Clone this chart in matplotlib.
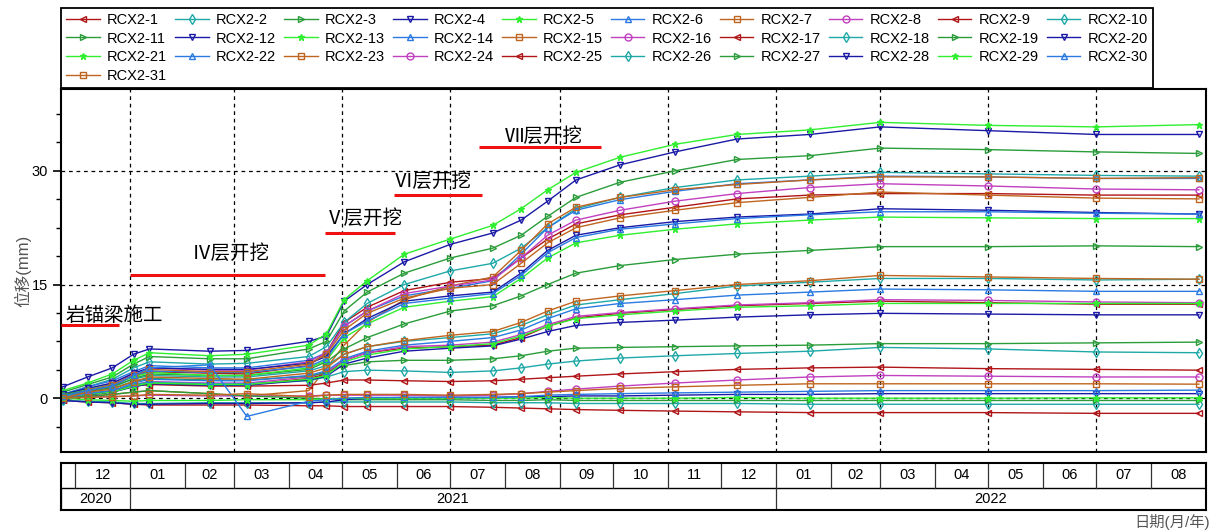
import matplotlib
matplotlib.use('Agg')
import matplotlib.pyplot as plt
import matplotlib.dates as mdates
from matplotlib.ticker import MultipleLocator
import pandas as pd

plt.rcParams['font.family'] = ['Liberation Sans', 'Noto Sans CJK SC']

# measurement dates (one marker per date)
dates = pd.to_datetime([
    '2020-11-24', '2020-12-08', '2020-12-22', '2021-01-03', '2021-01-12',
    '2021-02-15', '2021-03-08', '2021-04-12', '2021-04-22', '2021-05-02',
    '2021-05-15', '2021-06-05', '2021-07-01', '2021-07-25', '2021-08-10',
    '2021-08-25', '2021-09-10', '2021-10-05', '2021-11-05', '2021-12-10',
    '2022-01-20', '2022-03-01', '2022-05-01', '2022-07-01', '2022-08-28'])

# displacement (mm) per point
rcx2_1 = [0.0, 0.8, 1.5, 3.0, 3.5, 3.3, 3.2, 4.3, 6.0, 10.0, 12.0, 14.2, 15.3, 15.8, 18.5, 21.0, 23.0, 24.2, 25.2, 26.3, 26.8, 27.0, 27.0, 26.8, 26.8]
rcx2_2 = [0.5, 1.5, 2.5, 4.0, 4.8, 4.5, 4.6, 5.5, 6.8, 10.0, 12.5, 15.0, 16.8, 17.8, 19.8, 22.5, 25.0, 26.5, 27.8, 28.8, 29.3, 29.8, 29.6, 29.4, 29.3]
rcx2_3 = [0.8, 1.8, 2.8, 4.5, 5.5, 5.2, 5.2, 6.5, 7.5, 11.5, 14.0, 16.5, 18.5, 19.8, 21.5, 24.0, 26.5, 28.5, 30.0, 31.5, 32.0, 33.0, 32.8, 32.5, 32.3]
rcx2_4 = [1.5, 2.8, 4.0, 5.8, 6.5, 6.2, 6.3, 7.5, 8.2, 12.8, 15.0, 18.0, 20.3, 21.8, 23.5, 26.0, 28.8, 30.8, 32.5, 34.2, 34.8, 35.8, 35.3, 34.8, 34.8]
rcx2_5 = [1.0, 2.0, 3.2, 5.0, 6.0, 5.6, 5.8, 7.0, 8.5, 13.0, 15.5, 19.0, 21.0, 22.8, 25.0, 27.5, 29.8, 31.8, 33.5, 34.8, 35.4, 36.4, 36.0, 35.8, 36.1]
rcx2_6 = [0.5, 1.5, 2.3, 3.5, 4.3, 4.0, 4.0, 5.0, 6.0, 9.5, 11.5, 13.5, 14.5, 15.5, 19.0, 22.5, 24.8, 26.2, 27.3, 28.3, 28.8, 29.3, 29.2, 29.0, 29.0]
rcx2_7 = [0.0, 0.3, 0.5, 0.8, 1.0, 0.6, 0.3, 1.0, 4.0, 7.0, 10.0, 13.0, 14.8, 16.0, 19.5, 23.0, 25.2, 26.5, 27.5, 28.2, 28.8, 29.2, 29.2, 29.0, 29.1]
rcx2_8 = [0.3, 1.2, 2.0, 3.2, 4.0, 3.7, 3.7, 4.8, 6.0, 9.5, 11.5, 13.8, 14.8, 15.6, 18.5, 21.5, 23.5, 24.8, 26.0, 27.0, 27.8, 28.3, 28.0, 27.6, 27.5]
rcx2_9 = [-0.2, 0.5, 0.9, 1.7, 2.0, 1.8, 1.8, 2.6, 3.2, 5.0, 6.0, 6.6, 6.8, 7.0, 8.0, 9.5, 10.6, 11.2, 11.7, 12.2, 12.5, 12.8, 12.6, 12.4, 12.4]
rcx2_10 = [0.2, 1.0, 1.5, 2.5, 3.0, 2.8, 2.8, 3.6, 4.3, 5.8, 6.8, 7.5, 8.0, 8.5, 9.6, 11.0, 12.3, 13.0, 13.8, 14.8, 15.3, 15.8, 15.8, 15.6, 15.7]
rcx2_11 = [0.3, 1.0, 1.5, 2.6, 3.2, 3.0, 3.0, 3.8, 4.8, 6.5, 8.0, 9.8, 11.5, 12.2, 13.5, 15.0, 16.5, 17.5, 18.3, 19.0, 19.5, 20.0, 20.0, 20.1, 20.0]
rcx2_12 = [0.5, 1.3, 2.0, 3.3, 4.0, 3.8, 3.8, 4.6, 5.5, 8.5, 10.5, 12.8, 13.5, 14.0, 16.5, 19.5, 21.5, 22.5, 23.3, 23.9, 24.3, 25.0, 24.8, 24.5, 24.3]
rcx2_13 = [0.3, 1.1, 1.8, 2.8, 3.4, 3.0, 3.0, 4.0, 5.0, 8.0, 9.8, 12.0, 12.8, 13.4, 15.8, 18.5, 20.5, 21.5, 22.3, 23.0, 23.5, 23.9, 23.8, 23.7, 23.7]
rcx2_14 = [0.2, 1.0, 1.8, 3.0, 3.6, 3.4, 3.4, 4.2, 5.2, 8.5, 10.2, 12.5, 13.2, 13.8, 16.2, 19.2, 21.2, 22.3, 23.0, 23.7, 24.2, 24.6, 24.6, 24.4, 24.3]
rcx2_15 = [0.2, 1.0, 1.8, 3.0, 3.8, 3.5, 3.5, 4.5, 5.8, 9.0, 11.2, 13.2, 14.5, 15.0, 17.8, 20.5, 22.5, 23.8, 24.8, 25.8, 26.5, 27.2, 26.8, 26.4, 26.3]
rcx2_16 = [0.0, 0.5, 0.9, 1.8, 2.2, 2.0, 2.0, 2.8, 3.4, 5.0, 6.0, 6.8, 7.0, 7.4, 8.4, 9.7, 10.8, 11.3, 11.8, 12.3, 12.6, 13.0, 12.9, 12.7, 12.6]
rcx2_17 = [-0.2, 0.5, 0.8, 1.6, 1.8, 1.6, 1.6, 1.7, 2.0, 2.4, 2.4, 2.3, 2.2, 2.3, 2.5, 2.7, 2.9, 3.2, 3.5, 3.8, 4.0, 4.1, 3.9, 3.8, 3.7]
rcx2_18 = [0.2, 0.7, 1.0, 1.8, 2.1, 1.9, 1.9, 2.3, 2.8, 3.5, 3.7, 3.6, 3.4, 3.6, 4.0, 4.5, 4.9, 5.3, 5.6, 5.9, 6.2, 6.7, 6.5, 6.1, 6.0]
rcx2_19 = [0.5, 1.0, 1.3, 2.2, 2.6, 2.4, 2.4, 2.9, 3.4, 4.3, 4.8, 5.0, 5.0, 5.2, 5.6, 6.2, 6.6, 6.7, 6.8, 6.9, 7.0, 7.2, 7.2, 7.3, 7.4]
rcx2_20 = [-0.3, 0.4, 0.8, 1.5, 1.9, 1.7, 1.7, 2.4, 2.9, 4.5, 5.3, 6.2, 6.6, 6.9, 7.8, 8.8, 9.6, 10.0, 10.3, 10.7, 11.0, 11.2, 11.1, 11.0, 11.0]
rcx2_21 = [0.0, 0.5, 0.8, 1.6, 2.0, 1.8, 1.8, 2.5, 3.0, 4.8, 5.7, 6.5, 6.8, 7.2, 8.2, 9.5, 10.5, 11.0, 11.5, 12.0, 12.2, 12.5, 12.5, 12.5, 12.5]
rcx2_22 = [0.0, 0.6, 1.0, 2.0, 2.5, 2.3, 2.3, 3.0, 3.6, 5.2, 6.2, 7.0, 7.5, 8.0, 9.0, 10.5, 11.8, 12.5, 13.0, 13.6, 14.0, 14.4, 14.3, 14.1, 14.1]
rcx2_23 = [0.0, 0.8, 1.2, 2.2, 2.8, 2.6, 2.5, 3.3, 4.0, 5.8, 6.8, 7.6, 8.3, 8.8, 10.0, 11.5, 12.8, 13.5, 14.2, 15.0, 15.5, 16.2, 16.0, 15.8, 15.7]
rcx2_24 = [0.0, 0.2, 0.2, 0.3, 0.4, 0.3, 0.3, 0.3, 0.4, 0.4, 0.4, 0.4, 0.3, 0.4, 0.6, 0.9, 1.2, 1.6, 2.0, 2.4, 2.8, 3.0, 2.9, 2.8, 2.8]
rcx2_25 = [-0.3, -0.5, -0.6, -0.8, -0.9, -0.9, -0.9, -1.0, -1.0, -1.1, -1.1, -1.1, -1.1, -1.2, -1.3, -1.4, -1.5, -1.6, -1.7, -1.8, -1.9, -1.9, -1.9, -2.0, -2.0]
rcx2_26 = [-0.3, -0.4, -0.5, -0.7, -0.7, -0.6, -0.6, -0.6, -0.5, -0.5, -0.5, -0.5, -0.5, -0.6, -0.6, -0.6, -0.7, -0.7, -0.7, -0.7, -0.8, -0.8, -0.8, -0.8, -0.8]
rcx2_27 = [0.0, 0.2, 0.5, 0.8, 1.0, 0.6, 0.3, 0.0, -0.1, -0.2, -0.2, -0.2, -0.2, -0.3, -0.3, -0.2, -0.3, -0.3, -0.3, -0.3, -0.3, -0.3, -0.3, -0.3, -0.3]
rcx2_28 = [-0.3, -0.5, -0.6, -0.8, -0.8, -0.7, -0.7, -0.6, -0.5, -0.2, 0.0, 0.1, 0.1, 0.1, 0.2, 0.2, 0.3, 0.3, 0.4, 0.5, 0.5, 0.6, 0.6, 0.6, 0.6]
rcx2_29 = [0.0, -0.2, -0.3, -0.4, -0.3, -0.3, -0.2, -0.2, -0.1, 0.0, 0.0, 0.0, 0.0, 0.0, 0.0, 0.1, 0.0, 0.0, 0.0, 0.1, 0.0, 0.0, 0.0, 0.05, 0.05]
rcx2_30 = [0.3, 1.0, 1.6, 3.0, 4.0, 4.4, -2.4, -0.4, -0.2, 0.0, 0.1, 0.1, 0.1, 0.1, 0.2, 0.4, 0.5, 0.6, 0.7, 0.8, 0.9, 1.0, 1.0, 1.0, 1.06]
rcx2_31 = [0.0, 0.1, 0.2, 0.3, 0.5, 0.4, 0.6, 0.2, 0.4, 0.5, 0.5, 0.5, 0.4, 0.5, 0.6, 0.8, 1.0, 1.3, 1.5, 1.7, 1.9, 1.9, 1.9, 1.9, 1.85]

series = [rcx2_1, rcx2_2, rcx2_3, rcx2_4, rcx2_5, rcx2_6, rcx2_7, rcx2_8, rcx2_9, rcx2_10,
          rcx2_11, rcx2_12, rcx2_13, rcx2_14, rcx2_15, rcx2_16, rcx2_17, rcx2_18, rcx2_19, rcx2_20,
          rcx2_21, rcx2_22, rcx2_23, rcx2_24, rcx2_25, rcx2_26, rcx2_27, rcx2_28, rcx2_29, rcx2_30,
          rcx2_31]
names = ['RCX2-%d' % (i + 1) for i in range(len(series))]

# construction stages
stage_labels = ['岩锚梁施工', 'Ⅳ层开挖', 'Ⅴ层开挖', 'Ⅵ层开挖', 'Ⅶ层开挖']
stage_start = pd.to_datetime(['2020-11-23', '2021-01-01', '2021-04-21', '2021-05-30', '2021-07-17'])
stage_end = pd.to_datetime(['2020-12-26', '2021-04-21', '2021-05-31', '2021-07-19', '2021-09-24'])
stage_y = [9.65, 16.25, 21.8, 26.8, 33.2]
stage_text_x = pd.to_datetime(['2020-12-23', '2021-02-27', '2021-05-13', '2021-06-21', '2021-08-23'])
stage_text_y = [9.5, 17.7, 22.3, 27.2, 33.2]

colors = ['#b01518', '#1fa8a8', '#2a9d3a', '#1a1aa6', '#30ee30', '#2a7ae2', '#c0651f', '#c040c0']
marks = ['<', 'd', '>', 'v', '*', '^', 's', 'o']

x0 = pd.Timestamp('2020-11-23')
x1 = pd.Timestamp('2022-09-01')

fig = plt.figure(figsize=(12.22, 5.32), dpi=100)
ax = fig.add_axes([61 / 1222, 1 - 452 / 532, 1145 / 1222, 363 / 532])

handles = []
for i, vals in enumerate(series):
    c = colors[i % 8]
    m = marks[i % 8]
    mfc = c if m == '*' else 'none'
    ln, = ax.plot(dates, vals, color=c, lw=1.0, marker=m, ms=5, mfc=mfc, mec=c, mew=1.0, label=names[i])
    handles.append(ln)

for lab, s, e, y, tx, ty in zip(stage_labels, stage_start, stage_end, stage_y, stage_text_x, stage_text_y):
    ax.plot([s, e], [y, y], color='#ee1111', lw=2.2, solid_capstyle='butt', zorder=5)
    ax.text(tx, ty, lab, ha='center', va='bottom', fontsize=14, family=['Noto Sans CJK SC'], zorder=6)

ax.set_xlim(x0, x1)
ax.set_ylim(-7.1, 40.8)
ax.xaxis.set_major_locator(mdates.MonthLocator(bymonth=[1, 3, 5, 7, 9, 11]))
ax.set_yticks([0, 15, 30])
ax.yaxis.set_minor_locator(MultipleLocator(3.75))
ax.tick_params(axis='x', length=0, labelbottom=False)
ax.tick_params(axis='y', which='major', direction='out', length=6, width=1.2, labelsize=10.5)
ax.tick_params(axis='y', which='minor', direction='out', length=3.5, width=1.0)
ax.grid(True, which='major', color='black', linestyle=(0, (3, 3)), linewidth=0.9)
for sp in ax.spines.values():
    sp.set_linewidth(1.5)
ax.set_ylabel('位移(mm)', fontsize=12, color='#555555')
ax.yaxis.set_label_coords(-0.026, 0.5)

# legend laid out row by row like the original
ncol = 10
order = []
for c in range(ncol):
    for r in range(4):
        k = r * ncol + c
        if k < len(handles):
            order.append(k)
leg = fig.legend([handles[k] for k in order], [names[k] for k in order],
                 loc='lower left', bbox_to_anchor=(61 / 1222, 1 - 88 / 532, 1092 / 1222, 78 / 532),
                 mode='expand', ncol=ncol, fontsize=10.5, labelspacing=0.32, borderpad=0.35,
                 handlelength=2.3, handletextpad=0.5, borderaxespad=0, fancybox=False,
                 framealpha=1, edgecolor='black')
leg.get_frame().set_linewidth(1.3)

# month / year table under the plot
axt = fig.add_axes([61 / 1222, 1 - 510 / 532, 1145 / 1222, 47 / 532])
axt.set_xlim(x0, x1)
axt.set_ylim(0, 1)
axt.set_xticks([])
axt.set_yticks([])
for sp in axt.spines.values():
    sp.set_linewidth(1.5)
mid = 0.47
axt.axhline(mid, color='black', lw=1.0)
months = pd.date_range('2020-12-01', '2022-08-01', freq='MS')
for m in months:
    axt.plot([m, m], [mid, 1], color='#333333', lw=0.9)
    centre = m + (m + pd.offsets.MonthBegin(1) - m) / 2
    axt.text(centre, (mid + 1) / 2, m.strftime('%m'), ha='center', va='center', fontsize=10.5)
years = [(x0, pd.Timestamp('2021-01-01'), '2020'),
         (pd.Timestamp('2021-01-01'), pd.Timestamp('2022-01-01'), '2021'),
         (pd.Timestamp('2022-01-01'), x1, '2022')]
for a, b, lab in years:
    axt.plot([a, a], [0, mid], color='#333333', lw=0.9)
    axt.text(a + (b - a) / 2, mid / 2, lab, ha='center', va='center', fontsize=10.5)

fig.text(1210 / 1222, 1 - 522 / 532, '日期(月/年)', ha='right', va='center', fontsize=11, color='#555555')

fig.savefig('out.png', dpi=100)
